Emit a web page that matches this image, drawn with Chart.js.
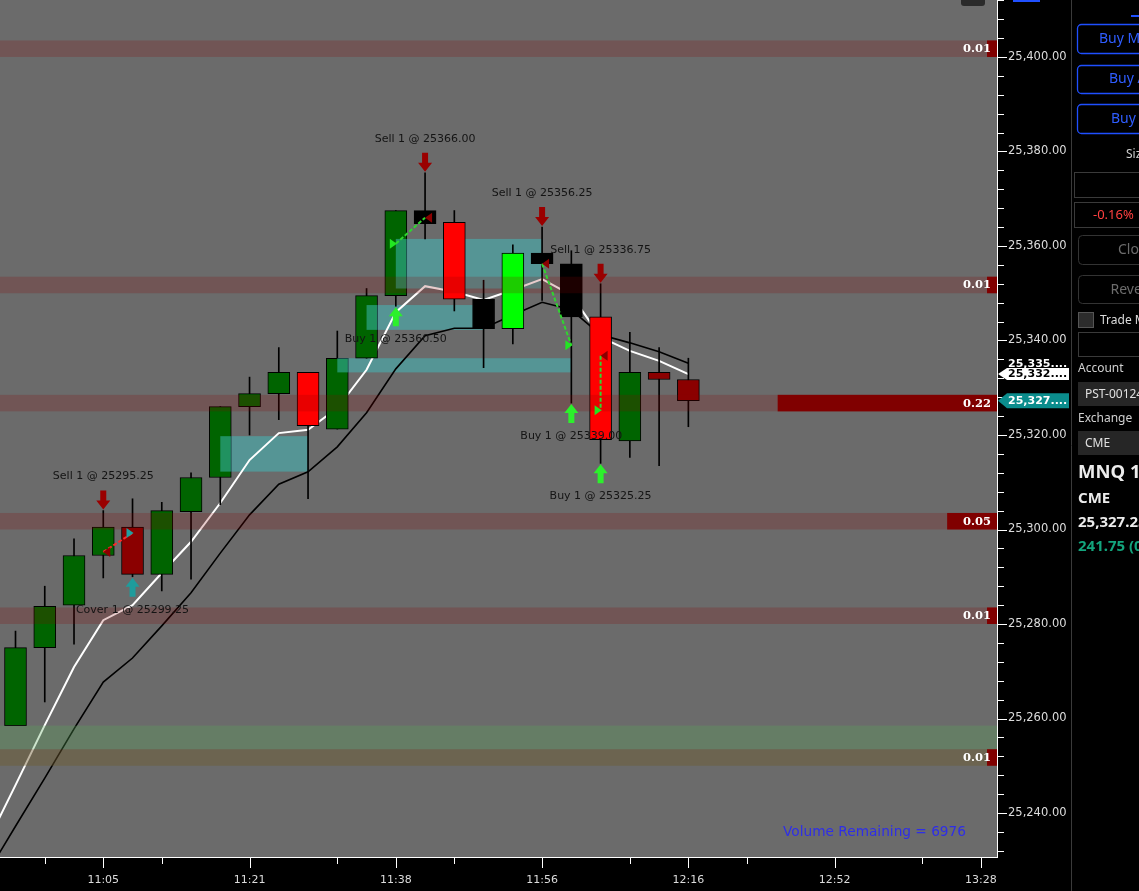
<!DOCTYPE html>
<html>
<head>
<meta charset="utf-8">
<script src="https://cdn.jsdelivr.net/npm/chart.js@4.4.1/dist/chart.umd.min.js"></script>
<style>
  html, body { margin: 0; padding: 0; background: #000; overflow: hidden; }
  #wrap { width: 1139px; height: 891px; }
</style>
</head>
<body>
<div id="wrap"><canvas id="chart" width="1139" height="891"></canvas></div>
<script>
// candles (bar index 0..23)
const opens  = [25258.50, 25275.00, 25284.00, 25294.50, 25300.50, 25290.50, 25303.75, 25311.00, 25326.00, 25328.75, 25333.25, 25321.25,
                25336.25, 25349.50, 25367.50, 25365.00, 25348.75, 25342.50, 25358.50, 25356.25, 25345.00, 25318.75, 25333.25, 25331.75];
const highs  = [25278.50, 25288.00, 25298.00, 25304.00, 25306.50, 25305.75, 25312.00, 25326.00, 25332.25, 25338.50, 25333.25, 25342.00,
                25351.00, 25367.50, 25375.50, 25367.50, 25352.75, 25360.25, 25364.00, 25359.00, 25352.00, 25341.75, 25338.50, 25336.25];
const lows   = [25258.50, 25263.50, 25275.75, 25289.75, 25290.00, 25287.00, 25289.50, 25305.25, 25320.00, 25323.25, 25306.50, 25321.25,
                25336.25, 25347.25, 25361.50, 25346.25, 25334.25, 25339.25, 25348.50, 25326.75, 25314.00, 25315.25, 25313.50, 25321.75];
const closes = [25275.00, 25283.75, 25294.50, 25300.50, 25290.50, 25304.00, 25311.00, 25326.00, 25328.75, 25333.25, 25322.00, 25336.25,
                25349.50, 25367.50, 25364.75, 25348.75, 25342.50, 25358.50, 25356.25, 25345.00, 25319.00, 25333.25, 25331.75, 25327.25];
const barColors = ['#006400', '#006400', '#006400', '#006400', '#8b0000', '#006400', '#006400', '#006400', '#006400', '#006400', '#ff0000', '#006400',
                   '#006400', '#006400', '#000000', '#ff0000', '#000000', '#00ff00', '#000000', '#000000', '#ff0000', '#006400', '#8b0000', '#8b0000'];
const bodyWidth = 22;

// moving averages, first value belongs to bar -1 (off screen)
const maFirstBar = -1;
const fastMA = [25233.4, 25245.9, 25258.6, 25270.9, 25280.8, 25284.0, 25290.8, 25297.4, 25305.6, 25314.7, 25320.4, 25321.1, 25325.7,
                25333.8, 25346.0, 25351.5, 25350.3, 25348.6, 25350.7, 25353.0, 25349.6, 25340.7, 25337.8, 25335.7, 25332.9];
const slowMA = [25226.9, 25237.2, 25247.4, 25257.8, 25267.7, 25272.8, 25279.6, 25286.6, 25295.0, 25303.1, 25309.6, 25312.2, 25317.5,
                25324.7, 25334.0, 25341.0, 25342.6, 25342.6, 25345.4, 25348.1, 25346.5, 25341.2, 25339.5, 25337.6, 25335.2];

// axes
const timeLabels = ['11:05', '11:21', '11:38', '11:56', '12:16', '12:52', '13:28'];
const timeTickBars = [3, 8, 13, 18, 23, 28, 33];
const minorTimeBars = [1, 5, 11, 15, 21, 25, 31];
const barMin = -0.53, barMax = 33.55;
const priceLabels = [25240, 25260, 25280, 25300, 25320, 25340, 25360, 25380, 25400];
const priceTickStep = 4;
const priceMin = 25230.69, priceMax = 25412.06;

// executions
const execBars    = [3, 4, 13, 14, 18, 19, 20, 20];
const execActions = ['Sell', 'Cover', 'Buy', 'Sell', 'Sell', 'Buy', 'Sell', 'Buy'];
const execPrices  = [25295.25, 25299.25, 25360.50, 25366.00, 25356.25, 25339.00, 25336.75, 25325.25];
const tradeEntry  = [0, 2, 4, 6];
const tradeExit   = [1, 3, 5, 7];
const tradeWin    = [false, true, true, true];

// volume levels
const levelLow    = [25400.0, 25350.0, 25325.0, 25300.0, 25280.0, 25250.0];
const levelHigh   = [25403.5, 25353.5, 25328.5, 25303.5, 25283.5, 25253.5];
const levelVolume = [0.01, 0.01, 0.22, 0.05, 0.01, 0.01];
const zoneLow = 25250.0, zoneHigh = 25258.5;

// shaded trade boxes
const boxStart = [7, 13, 12, 11];
const boxEnd   = [10, 18, 16, 19];
const boxLow   = [25312.25, 25351.00, 25342.25, 25333.25];
const boxHigh  = [25319.75, 25361.50, 25347.50, 25336.25];
const boxColor = 'rgba(64,192,192,0.5)';

const lastPrice = 25327.25;
const volumeRemaining = 6976;

const fmt = v => v.toLocaleString('en-US', { minimumFractionDigits: 2, maximumFractionDigits: 2 });
const shortFmt = v => fmt(v).slice(0, 6) + '....';

function rrect(ctx, x, y, w, h, r) {
  ctx.beginPath();
  ctx.roundRect(x, y, w, h, r);
}

function arrow(ctx, x, tip, dir, color) {
  // dir 1: points down, -1: points up
  const len = 19, headH = 9, headW = 7, shaft = 3;
  const tail = tip - dir * len, neck = tip - dir * headH;
  ctx.fillStyle = color;
  ctx.beginPath();
  ctx.moveTo(x - shaft, tail);
  ctx.lineTo(x + shaft, tail);
  ctx.lineTo(x + shaft, neck);
  ctx.lineTo(x + headW, neck);
  ctx.lineTo(x, tip);
  ctx.lineTo(x - headW, neck);
  ctx.lineTo(x - shaft, neck);
  ctx.closePath();
  ctx.fill();
}

function marker(ctx, x, y, side, color) {
  ctx.fillStyle = color;
  ctx.beginPath();
  if (side === 'Sell') {
    ctx.moveTo(x, y); ctx.lineTo(x + 7, y - 5); ctx.lineTo(x + 7, y + 5);
  } else {
    ctx.moveTo(x + 1, y); ctx.lineTo(x - 6, y - 5); ctx.lineTo(x - 6, y + 5);
  }
  ctx.closePath();
  ctx.fill();
}

function clipArea(ctx, a) {
  ctx.beginPath();
  ctx.rect(a.left, a.top, a.right - a.left, a.bottom - a.top);
  ctx.clip();
}

const background = {
  id: 'background',
  beforeDraw(chart) {
    const { ctx, chartArea: a } = chart;
    ctx.save();
    ctx.fillStyle = '#000';
    ctx.fillRect(0, 0, chart.width, chart.height);
    ctx.fillStyle = '#6b6b6b';
    ctx.fillRect(a.left, a.top, a.right - a.left, a.bottom - a.top);
    ctx.restore();
  },
  beforeDatasetsDraw(chart) {
    // trade boxes sit under the later candles
    const { ctx, chartArea: a } = chart;
    const X = v => chart.scales.x.getPixelForValue(v);
    const Y = v => chart.scales.y.getPixelForValue(v);
    ctx.save();
    clipArea(ctx, a);
    ctx.fillStyle = boxColor;
    boxStart.forEach((b, i) => {
      const x0 = X(b), x1 = X(boxEnd[i]), y0 = Y(boxHigh[i]), y1 = Y(boxLow[i]);
      ctx.fillRect(x0, y0, x1 - x0, y1 - y0);
    });
    ctx.restore();
  }
};

const overlays = {
  id: 'overlays',
  afterDatasetsDraw(chart) {
    const { ctx, chartArea: a } = chart;
    const X = v => chart.scales.x.getPixelForValue(v);
    const Y = v => chart.scales.y.getPixelForValue(v);
    ctx.save();
    clipArea(ctx, a);

    // ...but on top of the candle they start from
    ctx.fillStyle = boxColor;
    boxStart.forEach((b, i) => {
      const bx0 = Math.max(X(b), X(b) - bodyWidth / 2), bx1 = Math.min(X(boxEnd[i]), X(b) + bodyWidth / 2);
      const by0 = Math.max(Y(boxHigh[i]), Y(Math.max(opens[b], closes[b])));
      const by1 = Math.min(Y(boxLow[i]), Y(Math.min(opens[b], closes[b])));
      if (bx1 > bx0 && by1 > by0) ctx.fillRect(bx0, by0, bx1 - bx0, by1 - by0);
    });

    // green zone
    ctx.fillStyle = 'rgba(90,170,90,0.3)';
    ctx.fillRect(a.left, Y(zoneHigh), a.right - a.left, Y(zoneLow) - Y(zoneHigh));

    // level bands + volume profile
    levelLow.forEach((lo, i) => {
      const y0 = Y(levelHigh[i]), y1 = Y(lo);
      ctx.fillStyle = 'rgba(139,0,0,0.2)';
      ctx.fillRect(a.left, y0, a.right - a.left, y1 - y0);
      const w = levelVolume[i] * (a.right - a.left);
      ctx.fillStyle = '#800000';
      ctx.fillRect(a.right - w, y0, w, y1 - y0);
      ctx.fillStyle = '#ffffff';
      ctx.font = 'bold 11.5px "DejaVu Serif"';
      ctx.textAlign = 'right';
      ctx.textBaseline = 'middle';
      ctx.fillText(levelVolume[i].toFixed(2), a.right - 6, (y0 + y1) / 2 + 0.5);
    });

    // trade connectors
    ctx.lineWidth = 2;
    ctx.setLineDash([4, 2]);
    tradeEntry.forEach((e, i) => {
      const x = tradeExit[i];
      ctx.strokeStyle = tradeWin[i] ? '#2fd62f' : '#ff2a2a';
      ctx.beginPath();
      ctx.moveTo(X(execBars[e]), Y(execPrices[e]));
      ctx.lineTo(X(execBars[x]), Y(execPrices[x]));
      ctx.stroke();
    });
    ctx.setLineDash([]);

    // execution markers, arrows and labels
    ctx.font = '11px "DejaVu Sans"';
    ctx.textAlign = 'center';
    ctx.textBaseline = 'middle';
    execBars.forEach((b, i) => {
      const act = execActions[i];
      const x = X(b);
      const mColor = act === 'Sell' ? '#8b0000' : act === 'Cover' ? '#20a0a0' : '#22e622';
      marker(ctx, x, Y(execPrices[i]), act, mColor);
      let textY;
      if (act === 'Sell') {
        const tip = Y(highs[b]) - 1;
        arrow(ctx, x, tip, 1, '#9a0000');
        textY = tip - 19 - 14;
      } else {
        const tip = Y(lows[b]) + 1;
        arrow(ctx, x, tip, -1, act === 'Cover' ? '#1f9c9c' : '#2cf02c');
        textY = tip + 19 + 13;
      }
      ctx.fillStyle = '#141414';
      ctx.fillText(`${act} 1 @ ${execPrices[i].toFixed(2)}`, x, textY);
    });

    // volume remaining
    ctx.fillStyle = '#2e2ee8';
    ctx.font = '13.7px "DejaVu Sans"';
    ctx.textAlign = 'right';
    ctx.fillText(`Volume Remaining = ${volumeRemaining}`, a.right - 31, a.bottom - 25);

    // little widget at top
    ctx.fillStyle = '#2a2a2a';
    rrect(ctx, a.right - 36, -6, 24, 12, 3);
    ctx.fill();
    ctx.restore();
  },
  afterDraw(chart) {
    const { ctx, chartArea: a } = chart;
    const sy = chart.scales.y;
    const X = v => chart.scales.x.getPixelForValue(v);
    const Y = v => sy.getPixelForValue(v);
    ctx.save();

    // axis ticks
    ctx.strokeStyle = '#ffffff';
    ctx.lineWidth = 1;
    ctx.beginPath();
    for (let v = Math.ceil(sy.min / priceTickStep) * priceTickStep; v <= sy.max; v += priceTickStep) {
      const y = Math.round(Y(v)) + 0.5;
      const len = priceLabels.includes(v) ? 10 : 7;
      ctx.moveTo(a.right, y); ctx.lineTo(a.right + len, y);
    }
    timeTickBars.forEach(b => { const x = Math.round(X(b)) + 0.5; ctx.moveTo(x, a.bottom); ctx.lineTo(x, a.bottom + 11); });
    minorTimeBars.forEach(b => { const x = Math.round(X(b)) + 0.5; ctx.moveTo(x, a.bottom); ctx.lineTo(x, a.bottom + 7); });
    ctx.stroke();

    // price tags
    const tag = (v, h, bg, fg, pointer) => {
      const y = Y(v);
      ctx.fillStyle = bg;
      ctx.beginPath();
      if (pointer) { ctx.moveTo(a.right + 1, y); ctx.lineTo(a.right + 10, y - h / 2); }
      else ctx.moveTo(a.right + 10, y - h / 2);
      ctx.lineTo(a.right + 72, y - h / 2);
      ctx.lineTo(a.right + 72, y + h / 2);
      ctx.lineTo(a.right + 10, y + h / 2);
      ctx.closePath();
      ctx.fill();
      ctx.fillStyle = fg;
      ctx.font = 'bold 11px "DejaVu Sans"';
      ctx.textAlign = 'left';
      ctx.textBaseline = 'middle';
      ctx.fillText(shortFmt(v), a.right + 11, y + 0.5);
    };
    tag(slowMA[slowMA.length - 1], 12, '#000000', '#ffffff', false);
    tag(fastMA[fastMA.length - 1], 12, '#ffffff', '#000000', true);
    tag(lastPrice, 15, '#0b8d8d', '#ffffff', true);

    // right panel
    const px = 1071;
    ctx.fillStyle = '#000';
    ctx.fillRect(px + 1, 0, chart.width - px, chart.height);
    ctx.strokeStyle = '#3a3a3a';
    ctx.beginPath(); ctx.moveTo(px + 0.5, 0); ctx.lineTo(px + 0.5, chart.height); ctx.stroke();
    ctx.fillStyle = '#2050ff';
    ctx.fillRect(1013, 0, 27, 2);
    ctx.fillRect(1131, 15, 8, 2);

    ctx.textAlign = 'left';
    ctx.textBaseline = 'middle';
    const btn = (y, h, label, tx, border, color) => {
      ctx.strokeStyle = border; ctx.lineWidth = 1.3;
      rrect(ctx, 1077.5, y + 0.5, 90, h, 4); ctx.stroke();
      ctx.fillStyle = color; ctx.font = '14px "Noto Sans"';
      ctx.fillText(label, tx, y + h / 2 + 0.5);
    };
    btn(24, 29, 'Buy Market', 1099, '#1f4fff', '#2f5dff');
    btn(65, 28, 'Buy Ask', 1109, '#1f4fff', '#2f5dff');
    btn(104, 29, 'Buy Bid', 1111, '#1f4fff', '#2f5dff');
    ctx.fillStyle = '#cfcfcf'; ctx.font = '12px "Noto Sans"';
    ctx.fillText('Size', 1126, 155);

    ctx.lineWidth = 1; ctx.strokeStyle = '#3a3a3a';
    ctx.strokeRect(1074.5, 172.5, 90, 25);
    ctx.strokeRect(1074.5, 202.5, 90, 25);
    ctx.fillStyle = '#ff4040'; ctx.font = '13px "Noto Sans"';
    ctx.fillText('-0.16%', 1093, 215.5);

    ctx.strokeStyle = '#333';
    rrect(ctx, 1078.5, 235.5, 90, 29, 4); ctx.stroke();
    rrect(ctx, 1078.5, 275.5, 90, 28, 4); ctx.stroke();
    ctx.fillStyle = '#6c6c6c'; ctx.font = '14px "Noto Sans"';
    ctx.fillText('Close', 1118, 250.5);
    ctx.fillText('Reverse', 1110.5, 290);

    ctx.fillStyle = '#2c2c2c'; ctx.fillRect(1078, 312, 16, 16);
    ctx.strokeStyle = '#555'; ctx.strokeRect(1078.5, 312.5, 15, 15);
    ctx.fillStyle = '#dcdcdc'; ctx.font = '12px "Noto Sans"';
    ctx.fillText('Trade Mode', 1100, 320.5);
    ctx.strokeStyle = '#3a3a3a'; ctx.strokeRect(1078.5, 332.5, 90, 24);

    ctx.fillStyle = '#d0d0d0';
    ctx.fillText('Account', 1078, 368.5);
    ctx.fillText('Exchange', 1078, 418.5);
    ctx.fillStyle = '#262626';
    ctx.fillRect(1078, 382, 90, 24);
    ctx.fillRect(1078, 431, 90, 24);
    ctx.fillStyle = '#e0e0e0';
    ctx.fillText('PST-001245', 1085, 394.5);
    ctx.fillText('CME', 1085, 443.5);

    ctx.font = 'bold 18.5px "Noto Sans"';
    ctx.fillStyle = '#ececec';
    ctx.fillText('MNQ 12-25', 1078, 473);
    ctx.font = 'bold 15px "Noto Sans"';
    ctx.fillText('CME', 1078, 499);
    ctx.fillText(fmt(lastPrice), 1078, 522.5);
    ctx.fillStyle = '#13a57d';
    ctx.fillText('241.75 (0.96%)', 1078, 546.5);
    ctx.restore();
  }
};

const xy = (arr, first) => arr.map((v, i) => ({ x: i + first, y: v }));

new Chart(document.getElementById('chart'), {
  type: 'bar',
  data: {
    datasets: [
      { type: 'line', label: 'Slow MA', data: xy(slowMA, maFirstBar), borderColor: '#000000', borderWidth: 1.6, pointRadius: 0, tension: 0, order: 6 },
      { type: 'line', label: 'Fast MA', data: xy(fastMA, maFirstBar), borderColor: '#ffffff', borderWidth: 2, pointRadius: 0, tension: 0, order: 5 },
      { type: 'bar', label: 'Wicks', data: lows.map((l, i) => ({ x: i, y: [l, highs[i]] })),
        backgroundColor: '#000000', barThickness: 1, grouped: false, order: 4 },
      { type: 'bar', label: 'Bodies', data: opens.map((o, i) => ({ x: i, y: [o, closes[i]] })),
        backgroundColor: barColors, borderColor: '#000000', borderWidth: 1, borderSkipped: false,
        barThickness: bodyWidth, grouped: false, order: 3 }
    ]
  },
  options: {
    responsive: false,
    animation: false,
    devicePixelRatio: 1,
    layout: { padding: 0 },
    plugins: { legend: { display: false }, tooltip: { enabled: false } },
    scales: {
      x: {
        type: 'linear', position: 'bottom', min: barMin, max: barMax, offset: false,
        afterBuildTicks: s => { s.ticks = timeTickBars.map(v => ({ value: v })); },
        afterFit: s => { s.height = 34; s.paddingLeft = 0; s.paddingRight = 0; },
        ticks: { autoSkip: false, maxRotation: 0, padding: 17, color: '#dcdcdc',
                 font: { family: 'DejaVu Sans', size: 11 }, callback: (v, i) => timeLabels[i] },
        grid: { display: false, drawTicks: false },
        border: { display: true, color: '#ffffff', width: 1 }
      },
      y: {
        type: 'linear', position: 'right', min: priceMin, max: priceMax,
        afterBuildTicks: s => { s.ticks = priceLabels.map(v => ({ value: v })); },
        afterFit: s => { s.width = 142; s.paddingTop = 0; s.paddingBottom = 0; },
        ticks: { padding: 11, color: '#dcdcdc', font: { family: 'DejaVu Sans', size: 11.5 }, callback: v => fmt(v) },
        grid: { display: false, drawTicks: false },
        border: { display: true, color: '#ffffff', width: 1 }
      }
    }
  },
  plugins: [background, overlays]
});
</script>
</body>
</html>
